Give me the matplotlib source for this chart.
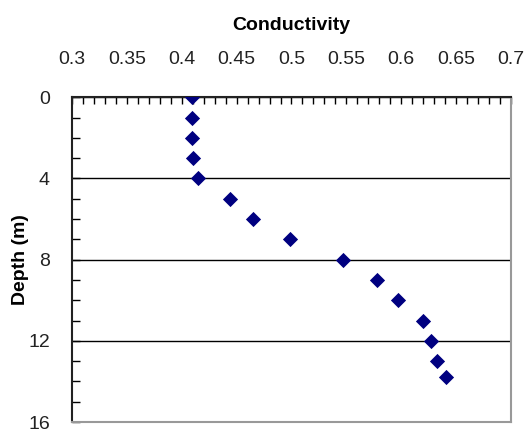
import matplotlib.pyplot as plt
from matplotlib.ticker import MultipleLocator

plt.rcParams['font.family'] = ['Liberation Sans', 'DejaVu Sans']

# depth (m) and conductivity readings
depth = [0, 1, 2, 3, 4, 5, 6, 7, 8, 9, 10, 11, 12, 13, 13.8]
conductivity = [0.409, 0.409, 0.409, 0.410, 0.415, 0.444, 0.465, 0.499,
                0.547, 0.578, 0.597, 0.620, 0.627, 0.633, 0.641]

x_ticks = [0.3, 0.35, 0.4, 0.45, 0.5, 0.55, 0.6, 0.65, 0.7]
x_labels = ['0.3', '0.35', '0.4', '0.45', '0.5', '0.55', '0.6', '0.65', '0.7']
y_ticks = [0, 4, 8, 12, 16]

fig = plt.figure(figsize=(5.3, 4.36), dpi=100)
ax = fig.add_axes([0.136, 0.032, 0.828, 0.745])

ax.scatter(conductivity, depth, marker='D', s=60, color='#000080', zorder=3,
           linewidths=0)

ax.set_xlim(0.3, 0.7)
ax.set_ylim(16, 0)

ax.xaxis.set_ticks_position('top')
ax.xaxis.set_label_position('top')
ax.set_xticks(x_ticks)
ax.set_xticklabels(x_labels)
ax.xaxis.set_minor_locator(MultipleLocator(0.01))
ax.set_yticks(y_ticks)
ax.yaxis.set_minor_locator(MultipleLocator(1))

ax.tick_params(axis='x', which='both', direction='in', length=5, width=1)
ax.tick_params(axis='x', which='major', pad=21, labelsize=14,
               labelcolor='#222222')
ax.tick_params(axis='y', which='both', direction='in', length=6, width=1)
ax.tick_params(axis='y', which='major', pad=16, labelsize=14,
               labelcolor='#222222')

ax.grid(axis='y', which='major', color='black', linewidth=1)

ax.set_xlabel('Conductivity', fontsize=14, fontweight='bold', labelpad=15)
ax.set_ylabel('Depth (m)', fontsize=14, fontweight='bold', labelpad=-1)

for side in ['left', 'top']:
    ax.spines[side].set_color('#222222')
    ax.spines[side].set_linewidth(1.5)
for side in ['right', 'bottom']:
    ax.spines[side].set_color('#999999')
    ax.spines[side].set_linewidth(1.5)

fig.savefig('out.png', dpi=100)
